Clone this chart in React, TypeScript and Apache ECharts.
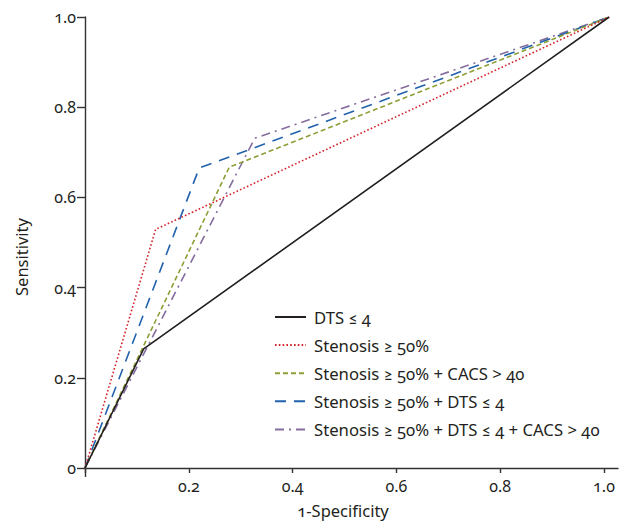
import React, { useEffect, useRef } from "react";
import * as echarts from "echarts";

const seriesNames = [
  "DTS ≤ 4",
  "Stenosis ≥ 50%",
  "Stenosis ≥ 50% + CACS > 40",
  "Stenosis ≥ 50% + DTS ≤ 4",
  "Stenosis ≥ 50% + DTS ≤ 4 + CACS > 40",
];
const dts: number[][] = [[0, 0], [0.113, 0.264], [1.01, 1]];
const stenosis: number[][] = [[0, 0], [0.136, 0.529], [1.01, 1]];
const stenosisCacs: number[][] = [[0, 0], [0.278, 0.667], [1.01, 1]];
const stenosisDts: number[][] = [[0, 0], [0.22, 0.665], [1.01, 1]];
const stenosisDtsCacs: number[][] = [[0, 0], [0.327, 0.731], [1.01, 1]];
const seriesData = [dts, stenosis, stenosisCacs, stenosisDts, stenosisDtsCacs];

const xTicks = [0, 0.2, 0.4, 0.6, 0.8, 1.0];
const xLabels = [0.2, 0.4, 0.6, 0.8, 1.0];
const yTicks = [0, 0.2, 0.4, 0.6, 0.8, 1.0];

const colors = ["#231f20", "#d2232a", "#8c9e35", "#2262ad", "#856c9e"];
const dashes: (number[] | string)[] = ["solid", [1.6, 2.2], [5, 3], [11, 8], [9, 5, 2, 5]];

const FONT = "'Noto Sans', Lato, sans-serif";
const INK = "#231f20";

export default function App() {
  const ref = useRef<HTMLDivElement>(null);
  useEffect(() => {
    if (!ref.current) return;
    const chart = echarts.init(ref.current, null, { renderer: "svg" });
    chart.setOption({
      animation: false,
      backgroundColor: "#ffffff",
      textStyle: { fontFamily: FONT, color: INK },
      grid: { left: 85, top: 17, width: 533, height: 451, containLabel: false },
      legend: {
        orient: "vertical",
        left: 269,
        top: 303,
        itemWidth: 31,
        itemHeight: 18,
        itemGap: 10.1,
        itemStyle: { opacity: 0 },
        textStyle: { fontFamily: FONT, fontSize: 16.7, lineHeight: 18, color: INK, padding: [0, 0, 0, 3] },
        data: seriesNames,
      },
      xAxis: [
        {
          type: "value",
          min: 0,
          max: 1.027,
          axisLine: { lineStyle: { color: "#333", width: 1.4 } },
          splitLine: { show: false },
          axisTick: { length: 5, customValues: xTicks, lineStyle: { color: "#333", width: 1.4 } },
          axisLabel: {
            customValues: xLabels,
            margin: 10,
            fontSize: 16,
            color: INK,
            fontFamily: FONT,
            formatter: (v: number) => v.toFixed(1),
          },
        },
        {
          type: "value",
          position: "bottom",
          min: 0,
          max: 1.027,
          axisLine: { show: false },
          splitLine: { show: false },
          axisTick: { length: 9, customValues: [0], lineStyle: { color: "#333", width: 1.4 } },
          axisLabel: { show: false },
        },
      ],
      yAxis: {
        type: "value",
        min: 0,
        max: 1,
        interval: 0.2,
        axisLine: { show: true, lineStyle: { color: "#333", width: 1.4 } },
        splitLine: { show: false },
        axisTick: { show: true, length: 8, customValues: yTicks, lineStyle: { color: "#333", width: 1.4 } },
        axisLabel: {
          margin: 9,
          fontSize: 16,
          color: INK,
          fontFamily: FONT,
          formatter: (v: number) => (v === 0 ? "0" : v.toFixed(1)),
        },
      },
      graphic: [
        {
          type: "text",
          x: 343,
          y: 510,
          style: {
            text: "1-Specificity",
            fontSize: 16.5,
            fontFamily: FONT,
            fill: INK,
            textAlign: "center",
            textVerticalAlign: "middle",
          },
        },
        {
          type: "text",
          x: 21,
          y: 257,
          rotation: Math.PI / 2,
          style: {
            text: "Sensitivity",
            fontSize: 16.5,
            fontFamily: FONT,
            fill: INK,
            textAlign: "center",
            textVerticalAlign: "middle",
          },
        },
      ],
      series: seriesNames.map((name, i) => ({
        name,
        type: "line",
        data: seriesData[i],
        symbol: "none",
        z: 10 - i,
        lineStyle: { color: colors[i], width: 1.6, type: dashes[i] },
        itemStyle: { color: colors[i] },
      })),
    });
    return () => chart.dispose();
  }, []);
  return (
    <>
      <style>{"svg text { font-variant-numeric: oldstyle-nums !important; font-feature-settings: 'onum' 1 !important; }"}</style>
      <div
        ref={ref}
        style={{ position: "fixed", left: 0, top: 0, width: 625, height: 523, background: "#fff" }}
      />
    </>
  );
}
